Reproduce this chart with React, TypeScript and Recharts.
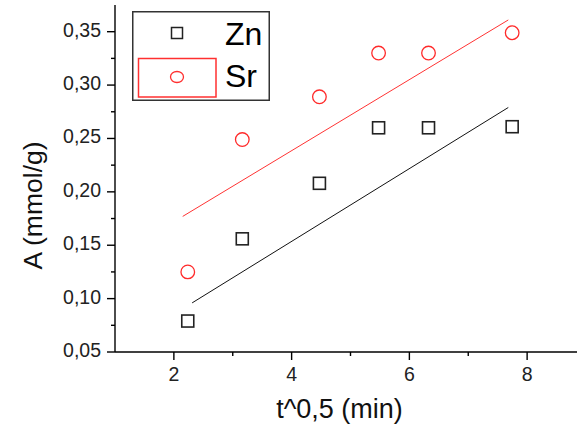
import React from 'react';
import { ScatterChart, Scatter, XAxis, YAxis, Legend } from 'recharts';

// sqrt(t) values (min^0.5)
const times = [2.236, 3.162, 4.472, 5.477, 6.325, 7.746];
const znValues = [0.079, 0.156, 0.208, 0.26, 0.26, 0.261];
const srValues = [0.125, 0.249, 0.289, 0.33, 0.33, 0.349];

// linear fit segments (end points)
const znFitX = [2.31, 7.68];
const znFitY = [0.096, 0.279];
const srFitX = [2.15, 7.68];
const srFitY = [0.177, 0.361];

const xMajorTicks = [2, 4, 6, 8];
const xMinorTicks = [3, 5, 7];
const yMajorTicks = [0.05, 0.1, 0.15, 0.2, 0.25, 0.3, 0.35];
const yMinorTicks = [0.075, 0.125, 0.175, 0.225, 0.275, 0.325];

const seriesNames = ['Zn', 'Sr'];
const xTitle = 't^0,5 (min)';
const yTitle = 'A (mmol/g)';

const FONT = '"Liberation Sans", Arial, sans-serif';

const toPoints = (xs: number[], ys: number[]) => xs.map((x, i) => ({ x, y: ys[i] }));
const znData = toPoints(times, znValues);
const srData = toPoints(times, srValues);
const znFit = toPoints(znFitX, znFitY);
const srFit = toPoints(srFitX, srFitY);

const isIn = (arr: number[], v: number) => arr.some((m) => Math.abs(m - v) < 1e-9);
const fmtY = (v: number) => v.toFixed(2).replace('.', ',');

const XTick = (props: any) => {
  const { x, y, payload } = props;
  const major = isIn(xMajorTicks, payload.value);
  return (
    <g>
      <line x1={x} x2={x} y1={y} y2={y + (major ? 8 : 4)} stroke="#000" strokeWidth={1.4} />
      {major && (
        <text x={x} y={y + 29} textAnchor="middle" fontSize={19.5} fontFamily={FONT} fill="#222">
          {String(payload.value)}
        </text>
      )}
    </g>
  );
};

const YTick = (props: any) => {
  const { x, y, payload } = props;
  const major = isIn(yMajorTicks, payload.value);
  return (
    <g>
      <line x1={x} x2={x - (major ? 8 : 4)} y1={y} y2={y} stroke="#000" strokeWidth={1.4} />
      {major && (
        <text x={x - 14} y={y + 5} textAnchor="end" fontSize={19.5} fontFamily={FONT} fill="#222">
          {fmtY(payload.value)}
        </text>
      )}
    </g>
  );
};

const XTitle = (props: any) => {
  const vb = props.viewBox;
  return (
    <text x={vb.x + vb.width / 2 - 11} y={vb.y + 66} textAnchor="middle" fontSize={27} fontFamily={FONT} fill="#111">
      {xTitle}
    </text>
  );
};

const YTitle = (props: any) => {
  const vb = props.viewBox;
  const cx = vb.x + 42;
  const cy = vb.y + vb.height / 2 + 27;
  return (
    <text x={cx} y={cy} transform={`rotate(-90, ${cx}, ${cy})`} textAnchor="middle" fontSize={26.5} fontFamily={FONT} fill="#111">
      {yTitle}
    </text>
  );
};

const SquareShape = (props: any) => {
  const { cx, cy } = props;
  return <rect x={cx - 6} y={cy - 6} width={12} height={12} fill="none" stroke="#222" strokeWidth={1.6} />;
};

const CircleShape = (props: any) => {
  const { cx, cy } = props;
  return <circle cx={cx} cy={cy} r={6.8} fill="none" stroke="#ff2a2a" strokeWidth={1.3} />;
};

const NoShape = () => <g />;

const LegendBox = () => (
  <svg width={138} height={90} style={{ display: 'block' }}>
    <rect x={0.75} y={0.75} width={136.5} height={88.5} fill="#fff" stroke="#333" strokeWidth={1.5} />
    <rect x={45 - 5.5} y={22 - 5.5} width={11} height={11} fill="none" stroke="#222" strokeWidth={1.5} />
    <rect x={6.5} y={47.5} width={77.5} height={38.5} fill="none" stroke="#ff3030" strokeWidth={1.5} />
    <ellipse cx={45} cy={66} rx={6.5} ry={5.5} fill="none" stroke="#ff3030" strokeWidth={1.3} />
    <text x={93} y={34} fontSize={32} fontFamily={FONT} fill="#000">{seriesNames[0]}</text>
    <text x={93} y={76} fontSize={32} fontFamily={FONT} fill="#000">{seriesNames[1]}</text>
  </svg>
);

export default function App() {
  return (
    <div style={{ position: 'absolute', left: 0, top: 0, width: 577, height: 427, overflow: 'hidden', background: '#fff' }}>
      <ScatterChart width={590} height={427} margin={{ top: 5, right: 4, bottom: 0, left: 0 }}>
        <XAxis
          type="number"
          dataKey="x"
          domain={[1, 9]}
          ticks={[...xMajorTicks, ...xMinorTicks].sort((a, b) => a - b)}
          interval={0}
          height={75}
          tickSize={0}
          tickMargin={0}
          tick={<XTick />}
          tickLine={false}
          axisLine={{ stroke: '#000', strokeWidth: 1.4 }}
          allowDataOverflow
          label={XTitle}
        />
        <YAxis
          type="number"
          dataKey="y"
          domain={[0.05, 0.375]}
          ticks={[...yMajorTicks, ...yMinorTicks].sort((a, b) => a - b)}
          interval={0}
          width={115}
          tickSize={0}
          tickMargin={0}
          tick={<YTick />}
          tickLine={false}
          axisLine={{ stroke: '#000', strokeWidth: 1.4 }}
          allowDataOverflow
          label={YTitle}
        />
        <Legend
          layout="vertical"
          align="center"
          verticalAlign="middle"
          content={() => <LegendBox />}
          wrapperStyle={{ position: 'absolute', left: 132, top: 11, width: 138, height: 90 }}
        />
        <Scatter
          name="Zn fit"
          data={znFit}
          line={{ stroke: '#111', strokeWidth: 1 }}
          shape={NoShape}
          legendType="none"
          isAnimationActive={false}
        />
        <Scatter
          name="Sr fit"
          data={srFit}
          line={{ stroke: '#ff3333', strokeWidth: 1 }}
          shape={NoShape}
          legendType="none"
          isAnimationActive={false}
        />
        <Scatter name={seriesNames[0]} data={znData} shape={SquareShape} isAnimationActive={false} />
        <Scatter name={seriesNames[1]} data={srData} shape={CircleShape} isAnimationActive={false} />
      </ScatterChart>
    </div>
  );
}
